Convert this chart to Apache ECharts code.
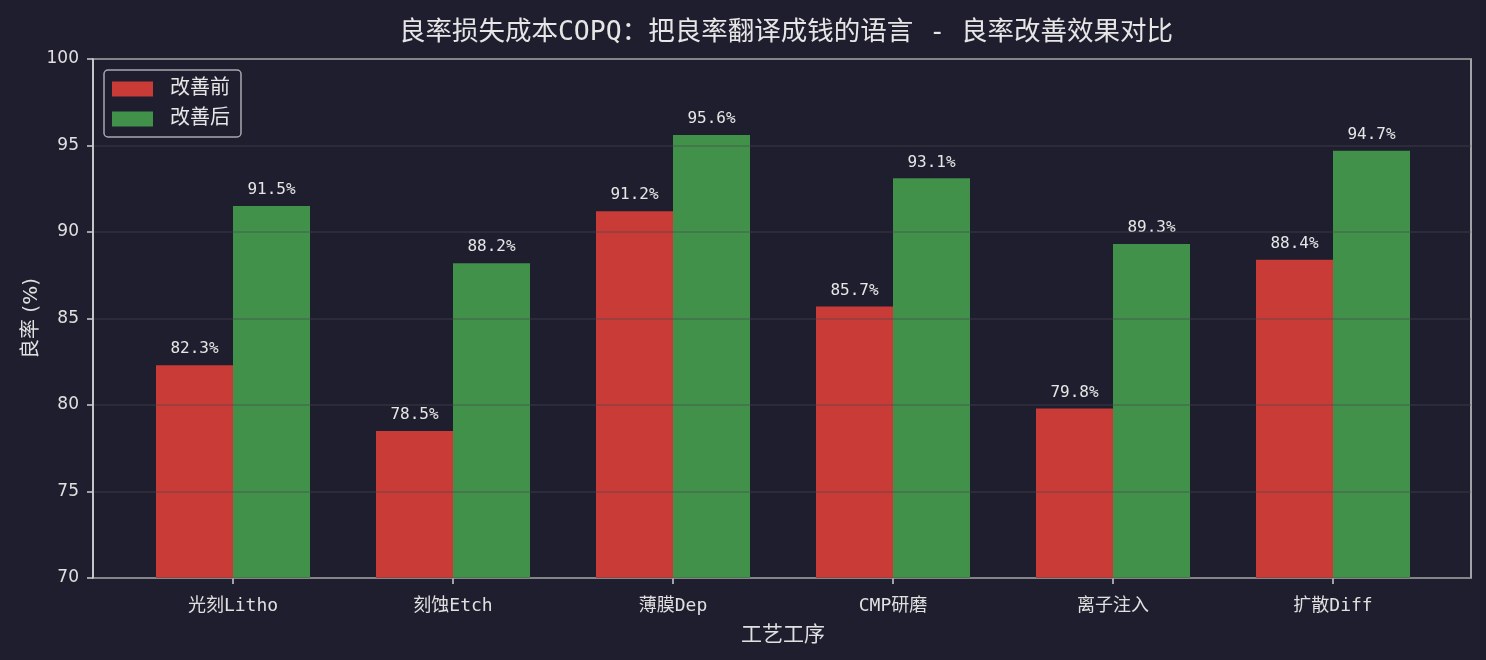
<!DOCTYPE html>
<html>
<head>
<meta charset="utf-8">
<script src="https://cdn.jsdelivr.net/npm/echarts@6/dist/echarts.min.js"></script>
<style>
    html, body { margin: 0; padding: 0; background: #1e1e2e; }
    #main { width: 1486px; height: 660px; }
</style>
</head>
<body>
<div id="main"></div>
<script>
const categories = ['光刻Litho', '刻蚀Etch', '薄膜Dep', 'CMP研磨', '离子注入', '扩散Diff'];
const beforeValues = [82.3, 78.5, 91.2, 85.7, 79.8, 88.4];
const afterValues = [91.5, 88.2, 95.6, 93.1, 89.3, 94.7];
const yTicks = [70, 75, 80, 85, 90, 95, 100];

const monoFont = '"DejaVu Sans Mono", "Noto Sans CJK SC", monospace';
const cjkFont = '"DejaVu Sans", "Noto Sans CJK SC", sans-serif';

document.addEventListener('DOMContentLoaded', function () {
    drawChart();
});

function drawChart() {
    let myChart = echarts.init(document.getElementById('main'));

    let barLabel = {
        show: true,
        position: 'top',
        distance: 8,
        color: '#e6e6e6',
        fontSize: 16,
        fontFamily: monoFont,
        formatter: function (p) {
            return p.value.toFixed(1) + '%';
        }
    };

    let option = {
        backgroundColor: '#1e1e2e',
        title: {
            text: '良率损失成本COPQ：把良率翻译成钱的语言 - 良率改善效果对比',
            left: 781,
            top: 15,
            textAlign: 'center',
            textStyle: {
                color: '#e6e6e6',
                fontSize: 26.5,
                fontWeight: 'normal',
                fontFamily: monoFont
            }
        },
        legend: {
            data: ['改善前', '改善后'],
            orient: 'vertical',
            left: 104,
            top: 70,
            icon: 'rect',
            itemWidth: 41,
            itemHeight: 15,
            itemGap: 10,
            padding: [9, 11, 8, 8],
            borderColor: '#a8a8b0',
            borderWidth: 1.5,
            borderRadius: 4,
            backgroundColor: 'rgba(30,30,46,0.8)',
            textStyle: {
                color: '#e6e6e6',
                fontSize: 20,
                fontFamily: cjkFont,
                padding: [0, 0, 0, 12]
            }
        },
        grid: [
            {
                // frame box
                left: 93, right: 15, top: 59, bottom: 82,
                show: true,
                borderColor: '#d0d0d0',
                borderWidth: 1.5,
                backgroundColor: 'transparent'
            },
            {
                // bars area, matching matplotlib margins
                left: 123, right: 43, top: 59, bottom: 82
            }
        ],
        xAxis: [
            {
                type: 'value',
                gridIndex: 0,
                min: 0, max: 1,
                show: false
            },
            {
                type: 'category',
                gridIndex: 1,
                data: categories,
                axisLine: { show: false },
                axisTick: {
                    show: true,
                    alignWithLabel: true,
                    length: 6,
                    lineStyle: { color: '#d0d0d0', width: 1.5 }
                },
                axisLabel: {
                    color: '#e0e0e0',
                    fontSize: 18,
                    fontFamily: monoFont,
                    margin: 19
                },
                name: '工艺工序',
                nameLocation: 'middle',
                nameGap: 47,
                nameTextStyle: {
                    color: '#e0e0e0',
                    fontSize: 21,
                    fontFamily: cjkFont
                }
            }
        ],
        yAxis: [
            {
                type: 'value',
                gridIndex: 0,
                min: 70,
                max: 100,
                interval: 5,
                z: 5,
                axisLine: { show: true, lineStyle: { color: '#d0d0d0', width: 1.5 } },
                axisTick: { show: true, length: 6, lineStyle: { color: '#d0d0d0', width: 1.5 } },
                axisLabel: {
                    color: '#e0e0e0',
                    fontSize: 17,
                    fontFamily: cjkFont,
                    margin: 14,
                    formatter: function (v) {
                        return yTicks.indexOf(v) >= 0 ? String(v) : '';
                    }
                },
                splitLine: {
                    show: true,
                    lineStyle: { color: 'rgba(70,70,80,0.45)', width: 1.5 }
                },
                name: '良率 (%)',
                nameLocation: 'middle',
                nameGap: 51,
                nameMoveOverlap: false,
                nameTextStyle: {
                    color: '#e0e0e0',
                    fontSize: 20,
                    fontFamily: cjkFont
                }
            },
            {
                type: 'value',
                gridIndex: 1,
                min: 70,
                max: 100,
                interval: 5,
                show: false,
                splitLine: { show: false }
            }
        ],
        series: [
            {
                name: '改善前',
                type: 'bar',
                xAxisIndex: 1,
                yAxisIndex: 1,
                data: beforeValues,
                barWidth: 77,
                barGap: '0%',
                itemStyle: { color: '#c93b36' },
                label: barLabel
            },
            {
                name: '改善后',
                type: 'bar',
                xAxisIndex: 1,
                yAxisIndex: 1,
                data: afterValues,
                barWidth: 77,
                barGap: '0%',
                itemStyle: { color: '#41914a' },
                label: barLabel
            }
        ]
    };

    myChart.setOption(option);
}
</script>
</body>
</html>
